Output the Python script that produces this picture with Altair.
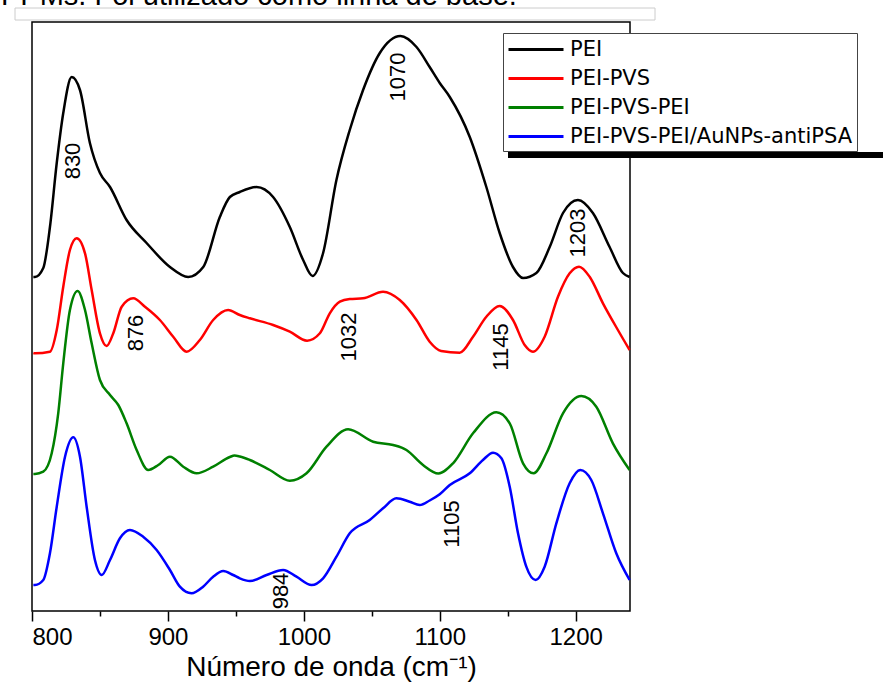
import altair as alt
import pandas as pd

# ---------------- data ----------------
series_names = ["PEI", "PEI-PVS", "PEI-PVS-PEI", "PEI-PVS-PEI/AuNPs-antiPSA"]
series_colors = ["#000000", "#ff0000", "#008000", "#0000ff"]

pei_wn = [801.0, 802.2, 808.3, 813.2, 818.2, 823.0, 829.2, 835.3, 842.6, 850.0, 857.4, 869.6,
          884.3, 901.5, 914.9, 926.0, 938.2, 945.6, 952.9, 965.2, 977.4, 989.7, 999.5, 1006.4,
          1014.2, 1024.0, 1033.8, 1043.6, 1055.9, 1071.1, 1082.9, 1092.6, 1100.0, 1107.4,
          1122.1, 1134.3, 1144.1, 1153.9, 1161.3, 1171.1, 1180.9, 1190.7, 1201.7, 1212.7,
          1225.0, 1234.8, 1239.7]
pei_val = [331, 331, 340, 381, 445, 495, 531, 518, 465, 435, 421, 388,
           365, 341, 331, 341, 391, 411, 416, 421, 411, 381, 348, 332,
           355, 428, 478, 518, 555, 572, 561, 541, 525, 511,
           471, 421, 375, 341, 330, 335, 361, 395, 408, 395,
           361, 335, 331]

pvs_wn = [801.0, 802.2, 813.2, 818.2, 823.0, 827.9, 832.9, 839.0, 843.9, 850.0, 854.9, 859.8,
          866.0, 874.5, 883.1, 894.1, 903.9, 913.8, 923.5, 933.3, 944.3, 952.9, 960.3, 977.4,
          989.7, 1002.4, 1011.8, 1019.1, 1026.5, 1033.8, 1043.6, 1058.3, 1070.6, 1082.9,
          1092.6, 1101.0, 1114.7, 1124.5, 1134.3, 1144.1, 1153.9, 1162.5, 1168.6, 1177.2,
          1187.0, 1195.6, 1202.5, 1210.3, 1220.1, 1231.1, 1239.7]
pvs_val = [255, 254.7, 256.3, 278, 321.3, 358, 369.7, 354.7, 318, 274.7, 262, 274.7,
           301.3, 309.7, 301.3, 288, 271.3, 256.3, 268, 288, 298, 293, 289.7, 283,
           276.3, 267.3, 274.7, 294.7, 306.3, 309, 309.7, 316.3, 308, 288,
           266.3, 257, 255.3, 271.3, 291.3, 302, 288, 263, 256.3, 271.3,
           311.3, 334.7, 341.3, 331.3, 304.7, 278, 258]

pvspei_wn = [801.0, 802.2, 808.3, 814.5, 819.3, 823.0, 827.9, 833.6, 839.0, 843.9, 850.0, 857.4,
             863.5, 869.6, 877.0, 885.5, 892.9, 901.5, 911.3, 921.1, 933.3, 945.6, 949.0, 952.9,
             960.3, 975.0, 989.7, 1002.0, 1016.7, 1032.6, 1051.0, 1065.7, 1075.5, 1087.7,
             1099.0, 1109.8, 1124.5, 1141.7, 1151.5, 1161.3, 1169.1, 1178.5, 1190.7, 1204.2,
             1215.2, 1227.4, 1239.7]
pvspei_val = [134, 134, 136.3, 154.7, 194.7, 244.7, 298, 317, 298, 264.7, 228, 213,
              203, 184.7, 158, 138, 143, 151.3, 141.3, 134.7, 141.3, 151, 152.5, 151.5,
              148, 138, 127.3, 134.7, 161.3, 178.7, 166.3, 163, 158, 143,
              134.5, 144.7, 174.7, 195.7, 184.7, 144.7, 134.7, 154.7, 194.7, 212,
              201.3, 164.7, 138]

au_wn = [801.0, 802.2, 808.3, 813.2, 818.2, 824.3, 830.4, 835.3, 840.2, 846.3, 851.3, 857.4,
         864.7, 872.1, 881.8, 891.7, 901.5, 908.8, 917.4, 925.9, 933.3, 940.7, 948.0, 952.9,
         960.3, 972.6, 984.8, 994.6, 1005.7, 1014.2, 1024.0, 1033.8, 1048.5, 1058.3, 1068.1,
         1077.9, 1085.3, 1092.6, 1100.0, 1107.4, 1122.1, 1131.8, 1139.2, 1145.4, 1151.5,
         1157.6, 1163.7, 1170.6, 1177.2, 1185.8, 1195.6, 1203.4, 1211.5, 1220.1, 1229.9, 1239.7]
au_val = [23, 23, 28, 54.7, 101.3, 151.3, 170.7, 151.3, 101.3, 48, 33, 48,
          69.7, 78, 71.3, 58, 38, 21.3, 14.7, 21.3, 31.3, 37, 33, 29.7,
          27, 33, 38, 31.3, 23, 29.7, 51.3, 74.7, 88, 99.7, 109.7,
          106.3, 103, 107.5, 113.7, 123, 134.7, 148, 155.3, 149.7, 121.3,
          74.7, 41.3, 28, 41.3, 84.7, 124.7, 138, 128, 94.7, 54.7, 28]

peak_labels = ["830", "1070", "1203", "876", "1032", "1145", "984", "1105"]
peak_wn = [830.5, 1069.5, 1201.8, 876.5, 1033.1, 1144.9, 983.1, 1108.8]
peak_val = [447, 531, 375, 275, 271, 261, 17, 84]

all_ticks = [800, 850, 900, 950, 1000, 1050, 1100, 1150, 1200]

x_title = "Número de onda (cm⁻¹)"
top_text = "PPMs. Foi utilizado como linha de base."

# ---------------- tables ----------------
frames = []
for name, wn, val in zip(series_names,
                         [pei_wn, pvs_wn, pvspei_wn, au_wn],
                         [pei_val, pvs_val, pvspei_val, au_val]):
    frames.append(pd.DataFrame({"wn": wn, "val": val, "serie": name}))
spectra = pd.concat(frames, ignore_index=True)
peaks = pd.DataFrame({"wn": peak_wn, "val": peak_val, "label": peak_labels})
one = pd.DataFrame({"t": [top_text]})

FONT = "Liberation Sans"
xscale = alt.Scale(domain=[800, 1240], nice=False, zero=False)
yscale = alt.Scale(domain=[-3, 586], nice=False, zero=False)

minor_test = "datum.value % 100 != 0"

lines = alt.Chart(spectra).mark_line(interpolate="monotone", strokeWidth=2.5).encode(
    x=alt.X("wn:Q", scale=xscale,
            axis=alt.Axis(orient="bottom", values=all_ticks, title=x_title, format="d",
                          labelExpr="datum.value % 100 == 0 ? datum.label : ''",
                          domain=False, grid=False,
                          tickSize={"condition": {"test": minor_test, "value": 5},
                                    "value": 10},
                          tickWidth=1.5,
                          tickColor="#000", labelFont=FONT, labelFontSize=24,
                          labelColor="#000", labelPadding=4, titleFont=FONT,
                          titleFontSize=28, titleFontWeight="normal",
                          titleColor="#000", titlePadding=4)),
    y=alt.Y("val:Q", scale=yscale, axis=None),
    color=alt.Color("serie:N",
                    scale=alt.Scale(domain=series_names, range=series_colors),
                    legend=alt.Legend(orient="none", legendX=471, legendY=11, title=None,
                                      symbolType="M-1,0H4", symbolSize=484,
                                      symbolStrokeWidth=3, symbolOffset=0,
                                      labelFont="DejaVu Sans", labelFontSize=21,
                                      labelColor="#000", labelOffset=38, labelLimit=0,
                                      padding=4, rowPadding=6, fillColor="white",
                                      strokeColor="#444")),
    detail="serie:N",
)

labels = alt.Chart(peaks).mark_text(angle=270, font=FONT, fontSize=22, color="#000",
                                    align="center", baseline="middle").encode(
    x=alt.X("wn:Q", scale=xscale),
    y=alt.Y("val:Q", scale=yscale, axis=None),
    text="label:N",
)

shadow = alt.Chart(pd.DataFrame({"k": [0]})).mark_rect(color="#000").encode(
    x=alt.value(476), x2=alt.value(900), y=alt.value(130), y2=alt.value(136))

topbox = alt.Chart(pd.DataFrame({"k": [0]})).mark_rect(
    fill="transparent", stroke="#cccccc", strokeWidth=1).encode(
    x=alt.value(-17), x2=alt.value(623), y=alt.value(-14), y2=alt.value(-2))

toptext = alt.Chart(one).mark_text(font=FONT, fontSize=29, color="#000", align="left",
                                   baseline="alphabetic").encode(
    x=alt.value(-31), y=alt.value(-17), text="t:N")

chart = alt.layer(topbox, toptext, lines, labels, shadow).properties(
    width=598, height=589,
    autosize=alt.AutoSizeParams(type="none"),
    padding={"left": 32, "top": 22, "right": 253, "bottom": 75},
    background="white",
).configure_view(stroke="#000", strokeWidth=1.5)

chart.save("out.html", embed_options={"renderer": "svg", "actions": False})
